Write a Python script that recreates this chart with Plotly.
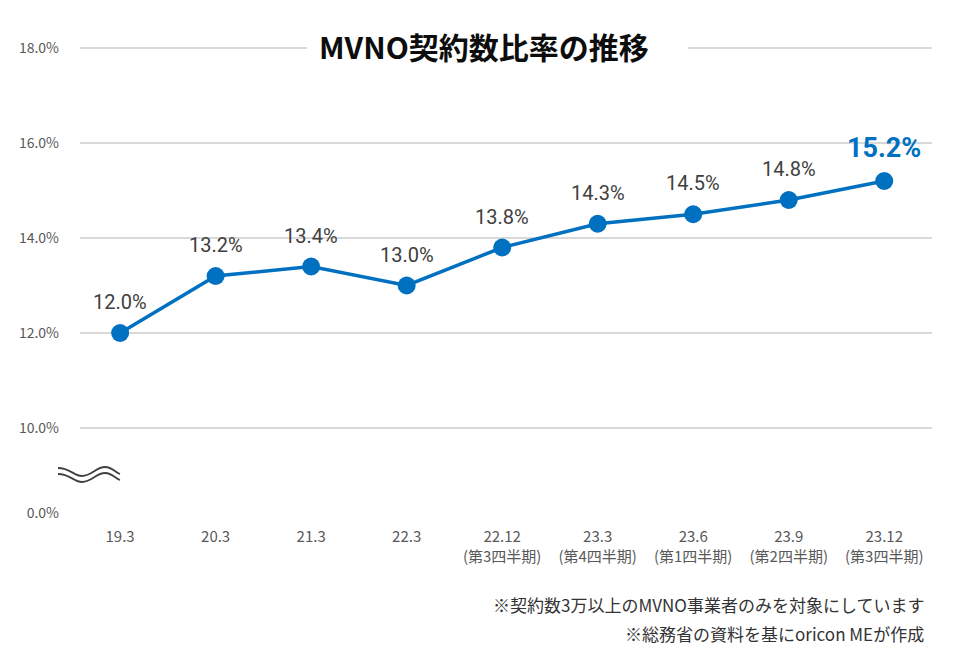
import plotly.graph_objects as go

# data
periods = ["19.3", "20.3", "21.3", "22.3", "22.12<br>(第3四半期)", "23.3<br>(第4四半期)",
           "23.6<br>(第1四半期)", "23.9<br>(第2四半期)", "23.12<br>(第3四半期)"]
share_pct = [12.0, 13.2, 13.4, 13.0, 13.8, 14.3, 14.5, 14.8, 15.2]

# y axis is broken between 0% and 10%: 0.0% sits a bit below 10%
y_ticks = [8.21, 10, 12, 14, 16, 18]
y_tick_text = ["0.0%", "10.0%", "12.0%", "14.0%", "16.0%", "18.0%"]

notes = ["※契約数3万以上のMVNO事業者のみを対象にしています",
         "※総務省の資料を基にoricon MEが作成"]

BLUE = "#0070C0"
OFF = 8  # page body margin
W, H = 954, 642
L, R, T, B = 72, 30, 31, 137
UNIT_PX = 47.5  # pixels per 1% on the y axis
y_top = 18 + (40 - T) / UNIT_PX  # a little headroom so the 18% gridline shows


def px(x):
    # page pixel -> paper x
    return (x - OFF - L) / (W - L - R)


def py(y):
    # page pixel -> paper y
    return (H - B - (y - OFF)) / (H - T - B)


x_idx = list(range(len(periods)))

fig = go.Figure()
fig.add_trace(go.Scatter(
    x=x_idx, y=share_pct, mode="lines+markers",
    line=dict(color=BLUE, width=3.5),
    marker=dict(color=BLUE, size=18),
    hoverinfo="skip", showlegend=False,
))

# value labels above points, last one highlighted
annotations = []
for i, v in enumerate(share_pct):
    last = i == len(share_pct) - 1
    annotations.append(dict(
        x=i, y=v, xref="x", yref="y", text=f"{v:.1f}%", showarrow=False,
        yshift=33 if last else 31,
        font=dict(family="Roboto", size=27 if last else 20,
                  color=BLUE if last else "#404040",
                  weight="bold" if last else "normal"),
    ))

# title sitting on the top gridline
annotations.append(dict(
    x=px(484), y=py(46), xref="paper", yref="paper", yanchor="middle",
    text="<b>MVNO契約数比率の推移</b>", showarrow=False,
    font=dict(family="Noto Sans CJK JP", size=30, color="#0d0d0d"),
))

# notes bottom right
for k, n in enumerate(notes):
    annotations.append(dict(
        x=px(926), y=py(604 + 29 * k), xref="paper", yref="paper",
        text=n, showarrow=False, xanchor="right", yanchor="middle",
        font=dict(family="Noto Sans CJK JP", size=17, color="#333333"),
    ))


def wave(dy):
    pts = [(58, 468), (70, 468), (74, 476), (82, 476), (92, 476), (96, 467),
           (105, 467), (112, 467), (116, 473), (120, 474)]
    pts = [(x, y + dy) for x, y in pts]
    d = f"M {px(pts[0][0])},{py(pts[0][1])}"
    for j in range(1, len(pts), 3):
        seg = pts[j:j + 3]
        if len(seg) < 3:
            break
        d += " C " + " ".join(f"{px(a)},{py(b)}" for a, b in seg)
    return d


shapes = [dict(type="path", xref="paper", yref="paper", path=wave(dy),
               line=dict(color="#404040", width=1.8)) for dy in (0, 6)]
# white gap in the top gridline behind the title
shapes.append(dict(type="rect", xref="paper", yref="paper",
                   x0=px(307), x1=px(688), y0=py(58), y1=py(38),
                   fillcolor="white", line=dict(width=0), layer="above"))

fig.update_layout(
    width=W, height=H,
    margin=dict(l=L, r=R, t=T, b=B),
    plot_bgcolor="white", paper_bgcolor="white",
    annotations=annotations, shapes=shapes,
    font=dict(family="Noto Sans CJK JP", color="#595959", size=12),
)
fig.update_xaxes(
    range=[-0.42, 8.5], tickvals=x_idx, ticktext=periods,
    showgrid=False, zeroline=False, showline=False,
    tickfont=dict(size=15, color="#595959"), ticklabelstandoff=13,
)
fig.update_yaxes(
    range=[10 - 85 / UNIT_PX, y_top], tickvals=y_ticks, ticktext=y_tick_text,
    showgrid=True, gridcolor="#d9d9d9", gridwidth=1.5,
    zeroline=False, showline=False,
    tickfont=dict(size=14, color="#595959"), ticklabelstandoff=20,
)

fig.write_html("out.html")
